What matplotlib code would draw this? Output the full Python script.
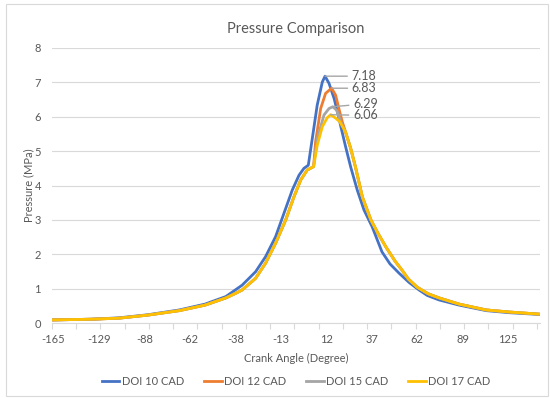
import numpy as np
import matplotlib
matplotlib.use("Agg")
import matplotlib.pyplot as plt
from matplotlib.patches import Rectangle

plt.rcParams['font.family'] = ['Lato', 'DejaVu Sans']

# crank angle (deg) vs cylinder pressure (MPa)
doi10_angle = [-165, -135, -111, -86, -68, -54, -43, -34.3, -26.9, -21.4, -15.9, -11.3,
               -6.7, -3.0, -0.3, 2.1, 4.3, 7.0, 9.8, 11.3, 13.5, 16.3, 19.0, 20.0, 22.6,
               25.4, 29.0, 32.7, 37.2, 42.6, 47.0, 52.0, 57.5, 63.1, 68.0, 75.0, 86.9,
               107.6, 125.8, 149]
doi10_p = [0.09, 0.11, 0.15, 0.24, 0.38, 0.55, 0.77, 1.10, 1.49, 1.93, 2.51, 3.19,
           3.87, 4.30, 4.50, 4.59, 5.37, 6.34, 7.01, 7.18, 6.97, 6.53, 5.95, 5.71, 5.13,
           4.54, 3.87, 3.29, 2.80, 2.07, 1.72, 1.45, 1.18, 0.96, 0.80, 0.67, 0.52,
           0.36, 0.30, 0.25]

# compression stroke shared by the later injection timings
comp_angle = [-165, -135, -111, -86, -68, -54, -43, -38, -34.3, -26.9, -21.4, -15.9,
              -10.4, -5.8, -2.1, 1.5, 5.0]
comp_p = [0.09, 0.11, 0.14, 0.23, 0.36, 0.52, 0.73, 0.86, 0.96, 1.30, 1.74, 2.32,
          2.99, 3.67, 4.16, 4.45, 4.55]

# expansion stroke shared by the later injection timings
exp_angle = [22.6, 25.4, 28.2, 31.8, 36.5, 40.5, 44.8, 49.8, 53.6, 57.1, 62.0, 68.5,
             75.0, 86.9, 107.6, 125.8, 149]
exp_p = [5.55, 5.08, 4.50, 3.67, 3.00, 2.60, 2.21, 1.80, 1.54, 1.28, 1.04, 0.85,
         0.73, 0.55, 0.38, 0.32, 0.26]

doi12_peak_angle = [6.1, 8.9, 11.6, 14.9, 17.1, 18.9, 20.8]
doi12_peak_p = [5.27, 6.24, 6.68, 6.83, 6.63, 6.24, 5.85]
doi15_peak_angle = [7.0, 10.7, 13.5, 15.6, 17.7, 19.9]
doi15_peak_p = [5.35, 6.05, 6.24, 6.29, 6.19, 5.85]
doi17_peak_angle = [7.0, 9.8, 12.5, 14.4, 17.1, 19.5]
doi17_peak_p = [5.17, 5.71, 5.97, 6.06, 5.96, 5.85]

labels = ['DOI 10 CAD', 'DOI 12 CAD', 'DOI 15 CAD', 'DOI 17 CAD']
colors = ['#4472C4', '#ED7D31', '#A5A5A5', '#FFC000']
tick_angles = [-165, -129, -88, -62, -38, -13, 12, 37, 62, 89, 125]

series = [
    (doi10_angle, doi10_p),
    (comp_angle + doi12_peak_angle + exp_angle, comp_p + doi12_peak_p + exp_p),
    (comp_angle + doi15_peak_angle + exp_angle, comp_p + doi15_peak_p + exp_p),
    (comp_angle + doi17_peak_angle + exp_angle, comp_p + doi17_peak_p + exp_p),
]

# category-style axis: every 15 samples carries a label
anchor_deg = np.array([-200] + tick_angles + [200], dtype=float)
anchor_cat = np.array([-35 / 36 * 15] + [15 * i for i in range(len(tick_angles))] + [150 + 75 / 36 * 15])

def fwd(a):
    return np.interp(a, anchor_deg, anchor_cat)

def inv(c):
    return np.interp(c, anchor_cat, anchor_deg)

txt = '#595959'
grid = '#D9D9D9'

fig = plt.figure(figsize=(5.5, 3.98), dpi=100)
fig.patches.append(Rectangle((6 / 550, 2 / 398), 542 / 550, 392 / 398, transform=fig.transFigure,
                             fill=False, edgecolor='#D9D9D9', lw=0.8))
ax = fig.add_axes([52 / 550, 1 - 323 / 398, 488 / 550, 275 / 398])
ax.set_xscale('function', functions=(fwd, inv))

for (a, p), lab, c in zip(series, labels, colors):
    ax.plot(a, p, color=c, lw=2.0, label=lab, solid_joinstyle='round')

ax.set_xlim(inv(-0.5), inv(160.5))
ax.set_ylim(0, 8)
ax.set_yticks(range(9))
ax.set_xticks(tick_angles)
ax.set_xticklabels([str(t) for t in tick_angles])
ax.set_xticks(inv(np.arange(0, 21) * 8 - 0.5), minor=True)
ax.tick_params(axis='x', which='major', length=0, pad=8, labelsize=8, labelcolor=txt)
ax.tick_params(axis='x', which='minor', length=4, color=grid, width=0.8)
ax.tick_params(axis='y', length=0, pad=8, labelsize=8, labelcolor=txt)
ax.grid(axis='y', color=grid, lw=0.8)
ax.set_axisbelow(True)
for s in ['top', 'right', 'left']:
    ax.spines[s].set_visible(False)
ax.spines['bottom'].set_color(grid)
ax.spines['bottom'].set_linewidth(0.8)

# peak value labels with leader lines
peaks = [(11.3, 7.18, (19, 0)), (14.9, 6.83, (14.5, 0)), (15.6, 6.29, (14.5, 2.2)), (14.4, 6.06, (16, -0.5))]
for x, y, off in peaks:
    ax.annotate(f'{y:.2f}', xy=(x, y), xytext=off, textcoords='offset points',
                ha='left', va='center', fontsize=9, color=txt,
                arrowprops=dict(arrowstyle='-', color='#A6A6A6', lw=1, shrinkA=1, shrinkB=0))

ax.set_title('Pressure Comparison', fontsize=10.5, color=txt, pad=11)
ax.set_xlabel('Crank Angle (Degree)', fontsize=8, color=txt, labelpad=6)
ax.set_ylabel('Pressure (MPa)', fontsize=8, color=txt, labelpad=0)
ax.legend(loc='upper center', bbox_to_anchor=(0.5, -0.155), ncol=4, frameon=False,
          fontsize=8, labelcolor=txt, handlelength=1.6, handletextpad=0.2, columnspacing=1.8)

fig.savefig('out.png', dpi=100)
